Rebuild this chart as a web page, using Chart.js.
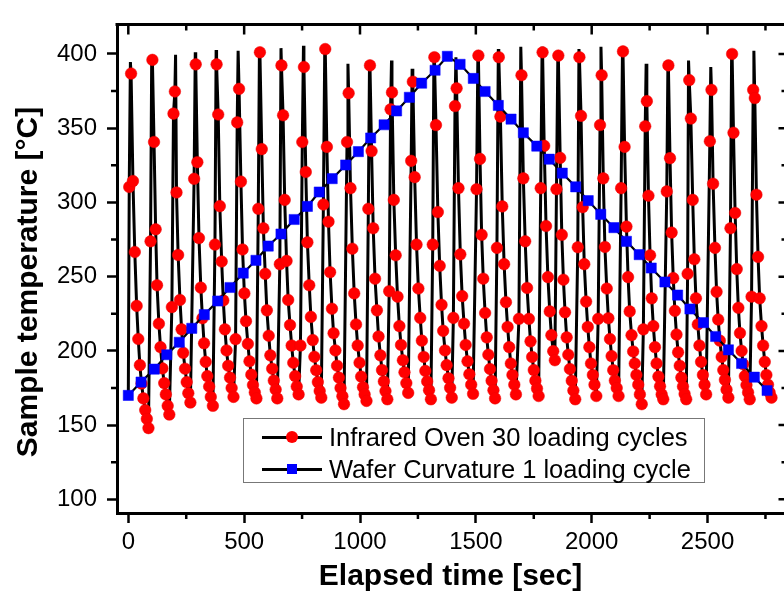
<!DOCTYPE html>
<html>
<head>
<meta charset="utf-8">
<script src="https://cdn.jsdelivr.net/npm/chart.js@4.4.1/dist/chart.umd.min.js"></script>
<style>
html,body{margin:0;padding:0;overflow:hidden;background:#fff;width:784px;height:595px;}
#c{position:absolute;left:0;top:0;}
#legend{position:absolute;left:243px;top:418px;width:462px;height:65px;border:1.5px solid #777;background:#fff;box-sizing:border-box;font-family:'Liberation Sans',Arial,sans-serif;font-size:25.5px;color:#000;}
#legend .ln{position:absolute;left:17.5px;width:60px;height:3px;background:#000;}
#legend .dot{position:absolute;left:41.5px;width:12px;height:12px;border-radius:50%;background:#f00;}
#legend .sq{position:absolute;left:42.5px;width:10px;height:10px;background:#00f;}
#legend .txt{position:absolute;left:85px;line-height:30px;white-space:nowrap;}
</style>
</head>
<body>
<canvas id="c" width="784" height="595"></canvas>
<div id="legend">
  <div class="ln" style="top:16.5px"></div><div class="dot" style="top:12px"></div>
  <div class="txt" id="lg0" style="top:3px"></div>
  <div class="ln" style="top:48.5px"></div><div class="sq" style="top:45px"></div>
  <div class="txt" id="lg1" style="top:35px"></div>
</div>
<script>
// ---- data ----
const ovenTime = [
  4,12,20,28,36,43,50,57,65,73,80,87,
  96,104,111,118,124,132,139,147,155,162,170,177,
  188,195,201,208,215,223,230,237,245,252,259,268,
  284,291,298,305,313,320,327,334,341,349,356,365,
  374,381,388,395,403,410,417,424,431,439,446,454,
  463,470,478,486,493,501,508,516,523,531,538,546,553,
  561,568,576,583,591,598,606,613,621,628,636,643,
  654,661,668,675,683,690,698,705,712,720,727,735,
  743,751,758,766,773,781,788,796,803,811,818,826,833,
  842,850,857,864,871,879,886,894,901,909,916,924,931,
  944,951,959,967,975,983,990,998,1005,1013,1020,1028,
  1036,1043,1050,1057,1065,1073,1080,1088,1095,1103,1110,1118,
  1126,1132,1138,1146,1154,1162,1170,1177,1185,1192,1200,1208,
  1221,1228,1236,1244,1252,1260,1267,1275,1282,1290,1298,1306,
  1314,1321,1328,1336,1344,1352,1359,1367,1374,1382,1389,1396,
  1403,1410,1417,1425,1433,1441,1449,1456,1464,1472,1480,1488,
  1503,1511,1518,1525,1532,1540,1547,1554,1561,1568,1576,1583,
  1591,1599,1606,1614,1622,1630,1637,1644,1651,1658,1666,1673,
  1686,1697,1705,1713,1721,1729,1736,1743,1750,1757,1764,1771,
  1780,1788,1795,1803,1811,1819,1826,1834,1841,
  1848,1856,1864,1871,1878,1885,1892,1899,1906,1914,1921,1929,
  1940,1947,1954,1961,1968,1976,1983,1990,1997,2005,2012,2020,
  2028,2036,2043,2050,2057,2065,2072,2079,2086,2093,2100,2108,2116,
  2127,2135,2142,2150,2157,2164,2172,2179,2186,2193,2201,2208,2216,
  2223,2231,2238,2245,2252,2259,2266,2273,2280,2288,2295,2302,2309,
  2324,2331,2338,2345,2352,2359,2366,2373,2380,2387,2394,2401,2408,
  2414,2421,2428,2436,2443,2450,2458,2465,2472,2480,2487,2494,
  2510,2517,2524,2532,2539,2546,2553,2561,2568,2575,2582,2590,
  2599,2606,2612,2619,2626,2633,2640,2647,2654,2661,2668,2675,2682,
  2690,2697,2704,2711,2718,2725,2733,2740,2747,2754,2761,2768,2776
];
const ovenTemp = [
  310.4,386.8,314.4,266.6,230.3,208,190.4,178,168,160.1,154.2,148,
  273.8,396,340.7,281.9,244.2,218.3,202.5,188.2,178.3,170.7,163,157.1,
  229.5,359.8,374.7,306.7,264.6,234.3,214.5,198.7,188,179,171.5,165.2,
  315.9,393,327.1,276,242.6,222,205.1,192.6,183,176,169,163,
  271.6,393,359.2,297.5,260.2,234,214.5,200.3,190,182,175,169,
  207.9,353.9,376.5,314,268.3,238.7,220,204.7,193,184,177,172,168,
  295.7,401.1,335.9,282.6,251.9,227.3,210.2,197,188,180,174,168,
  258.4,392.3,358.7,301.7,260.6,234.3,217.4,203.6,192,183,176,170.7,
  203.6,340.7,391.2,320.5,273.1,244.2,222.9,207.3,196,187,179,173,168.5,
  298.6,403.3,337.4,287,253,228.4,211.9,200.3,190,182,175,169.5,164.1,
  340.7,373.6,309.6,268.8,238.7,217.8,203.6,192,182.7,175.5,170.7,166.3,
  295.7,392.3,334.6,282.6,248.6,227.3,209.7,197,187.1,179.4,172.9,167.4,
  240.2,362.7,374.1,301.7,264.4,236.5,216.7,204,193.7,185.6,178.3,171.7,
  328,381.3,317,271.6,242,222.2,206.9,195.9,186.5,179.4,173.5,167.4,
  271.6,397.8,352.1,293.5,257.3,231,213.5,200.3,190.4,181.6,175.1,168.5,
  222.2,364.9,376.9,309.6,265,236.9,218.3,204,193,184.3,177.2,171.1,
  308.9,398.9,329.3,278.2,248.6,225.5,209.1,197.4,187.8,179.9,173.5,168,
  269.4,397.8,357.8,297.3,258.4,232.8,216.1,202.5,191.5,183.8,177.2,170.7,
  221.6,385.7,316.2,273.8,242.4,221.6,206.4,195.9,187.1,179.9,174.6,169.6,
  309.6,401.1,338.1,284.1,249.7,226.6,210.6,199.8,193.7,
  308.9,398.9,330,278.2,247.9,226,209.1,197.4,187.8,179.9,173.3,167.4,
  269.8,397.8,358.3,296.8,258.4,233.2,216.1,202.5,191.5,183.8,177.2,169.6,
  221.6,352.1,385.7,316.2,270,242,222,208,196.5,187,180,175,169.6,
  309.6,401.7,337.4,283.7,249.7,226.6,210.6,199.6,191.5,183.8,177.2,170.7,164.1,
  214.5,351.3,368.2,304.5,264.4,235.4,216.7,202.5,191.5,182.7,176.1,170.7,167.4,
  307.4,392.3,329.8,279.7,249,227,211,199,190,182,176,171,167.4,
  251.9,382.4,356.5,301.7,261.7,235.4,217.8,203.6,192.6,183.8,177.2,170.7,
  341.2,375.8,312.6,269.4,239.8,221.1,206.9,195.9,187.1,180.5,173.9,168.5,
  282.6,400,346.9,292.9,255.1,229,212,200,191,183,177,172,167.4,
  236.5,375.8,370.3,305.2,263.3,235.4,216.7,203.6,192.6,183.8,177.2,172,168.5
];
// line tops of the oven trace (unmarked samples)
const ovenPeakTime = [9,101,204,289,379,474,566,659,756,848,948,1041,1136,1225,1319,1414,1509,1597,1694,1786,1854,1945,2040,2133,2235,2329,2418,2514,2604,2700];
const ovenPeakTemp = [394.5,398.9,399.5,401.1,402.6,402.2,404.4,403.9,405.5,406.6,393.4,393.4,395.6,390,400,397.8,402.2,403.3,404.8,404.8,400,403.3,404.8,404.4,393.4,393.4,395.6,391.2,403.3,402.2];
const ovenStartTime = 0;
const ovenStartTemp = 168;

const waferTime = [0,55,112,166,220,274,328,386,439,496,551,604,659,716,773,824,880,938,993,1046,1104,1158,1213,1266,1324,1377,1432,1489,1540,1597,1652,1705,1763,1817,1873,1931,1985,2039,2096,2150,2205,2257,2316,2371,2424,2482,2535,2590,2647,2702,2757];
const waferTemp = [170,179,187.7,197.4,205.8,215.2,224.4,233.6,242.7,252.4,261,270.6,278.7,288.5,297.3,307,316,325.2,334.2,343.4,352.3,361.6,370.8,380.3,389,398.4,393,383.5,374.7,365.3,356.1,346.9,337.9,329.1,319.7,310.5,301.2,292,283,273.8,264.8,255.8,246.4,237.6,228.2,219,209.7,200.7,191.5,182.3,173.3];

const xTicks = [0,500,1000,1500,2000,2500];
const xMinorTicks = [250,750,1250,1750,2250,2750];
const yTicks = [100,150,200,250,300,350,400];
const yMinorTicks = [125,175,225,275,325,375];
const xTitle = 'Elapsed time [sec]';
const yTitle = 'Sample temperature [°C]';
const seriesNames = ['Infrared Oven 30 loading cycles','Wafer Curvature 1 loading cycle'];

// ---- build chart data ----
const ovenDots = ovenTime.map((t,i)=>({x:t,y:ovenTemp[i]}));
const ovenLine = [{x:ovenStartTime,y:ovenStartTemp}]
  .concat(ovenDots, ovenPeakTime.map((t,i)=>({x:t,y:ovenPeakTemp[i]})))
  .sort((a,b)=>a.x-b.x);
const wafer = waferTime.map((t,i)=>({x:t,y:waferTemp[i]}));

document.getElementById('lg0').textContent = seriesNames[0];
document.getElementById('lg1').textContent = seriesNames[1];

const FONT = "'Liberation Sans', Arial, sans-serif";

const framePlugin = {
  id:'frame',
  afterDraw(chart){
    const {ctx, chartArea:a, scales:{x,y}} = chart;
    const r = a.right; // right frame itself falls just outside the picture
    ctx.save();
    ctx.strokeStyle = '#000';
    ctx.lineWidth = 3;
    ctx.beginPath();
    ctx.moveTo(a.left-1.5, a.top); ctx.lineTo(r, a.top);
    ctx.stroke();
    ctx.lineWidth = 2.5;
    ctx.beginPath();
    xTicks.forEach(v=>{const p=x.getPixelForValue(v); ctx.moveTo(p,a.top); ctx.lineTo(p,a.top+10);});
    xMinorTicks.forEach(v=>{const p=x.getPixelForValue(v);
      ctx.moveTo(p,a.top); ctx.lineTo(p,a.top+6);
      ctx.moveTo(p,a.bottom); ctx.lineTo(p,a.bottom+6);});
    yMinorTicks.forEach(v=>{const p=y.getPixelForValue(v);
      ctx.moveTo(a.left,p); ctx.lineTo(a.left-6,p);});
    yTicks.forEach(v=>{const p=y.getPixelForValue(v); ctx.moveTo(r,p); ctx.lineTo(r-5.5,p);});
    yMinorTicks.forEach(v=>{const p=y.getPixelForValue(v); ctx.moveTo(r,p); ctx.lineTo(r-2.5,p);});
    ctx.stroke();
    // y axis title
    ctx.fillStyle = '#000';
    ctx.font = "bold 30px " + FONT;
    ctx.textAlign = 'center';
    ctx.textBaseline = 'middle';
    ctx.translate(29, 282);
    ctx.rotate(-Math.PI/2);
    ctx.fillText(yTitle, 0, 0);
    ctx.restore();
  }
};

new Chart(document.getElementById('c'), {
  type:'line',
  data:{
    datasets:[
      {label:seriesNames[0]+' line', data:ovenLine, borderColor:'#000', borderWidth:3, borderJoinStyle:'bevel',
       pointRadius:0, pointHoverRadius:0, tension:0, fill:false, order:4},
      {label:seriesNames[0], data:ovenDots, showLine:false, pointRadius:5.8, pointHoverRadius:5.8,
       pointBackgroundColor:'#ff0000', pointBorderColor:'#ee0000', pointBorderWidth:0.5, order:3},
      {label:seriesNames[1], data:wafer, borderColor:'#000', borderWidth:2.2, tension:0, fill:false,
       pointStyle:'rect', pointRadius:7.2, pointHoverRadius:7.2, pointBackgroundColor:'#0000ff', pointBorderColor:'#0000ff',
       pointBorderWidth:0.5, order:1}
    ]
  },
  options:{
    responsive:false, maintainAspectRatio:false, animation:false, devicePixelRatio:1,
    layout:{autoPadding:false, padding:{left:0,right:0,top:13,bottom:0}},
    plugins:{legend:{display:false}, tooltip:{enabled:false}},
    events:[],
    scales:{
      x:{type:'linear', min:-48.8, max:2830,
        afterBuildTicks:s=>{ s.ticks = xTicks.map(v=>({value:v})); },
        afterFit:s=>{ s.height = 82; },
        grid:{display:true, drawOnChartArea:false, drawTicks:true, tickLength:10, tickWidth:2.5, tickColor:'#000'},
        border:{display:true, color:'#000', width:3},
        ticks:{color:'#000', font:{family:FONT, size:24}, padding:5, maxRotation:0, autoSkip:false, callback:v=>String(v)},
        title:{display:true, text:xTitle, color:'#000', font:{family:FONT, size:30, weight:'bold'}, padding:{top:0,bottom:0}}
      },
      y:{type:'linear', min:90.8, max:419.9,
        afterBuildTicks:s=>{ s.ticks = yTicks.map(v=>({value:v})); },
        afterFit:s=>{ s.width = 117; },
        grid:{display:true, drawOnChartArea:false, drawTicks:true, tickLength:10, tickWidth:2.5, tickColor:'#000'},
        border:{display:true, color:'#000', width:3},
        ticks:{color:'#000', font:{family:FONT, size:24}, padding:10, callback:v=>String(v)},
        title:{display:false}
      }
    }
  },
  plugins:[framePlugin]
});
</script>
</body>
</html>
